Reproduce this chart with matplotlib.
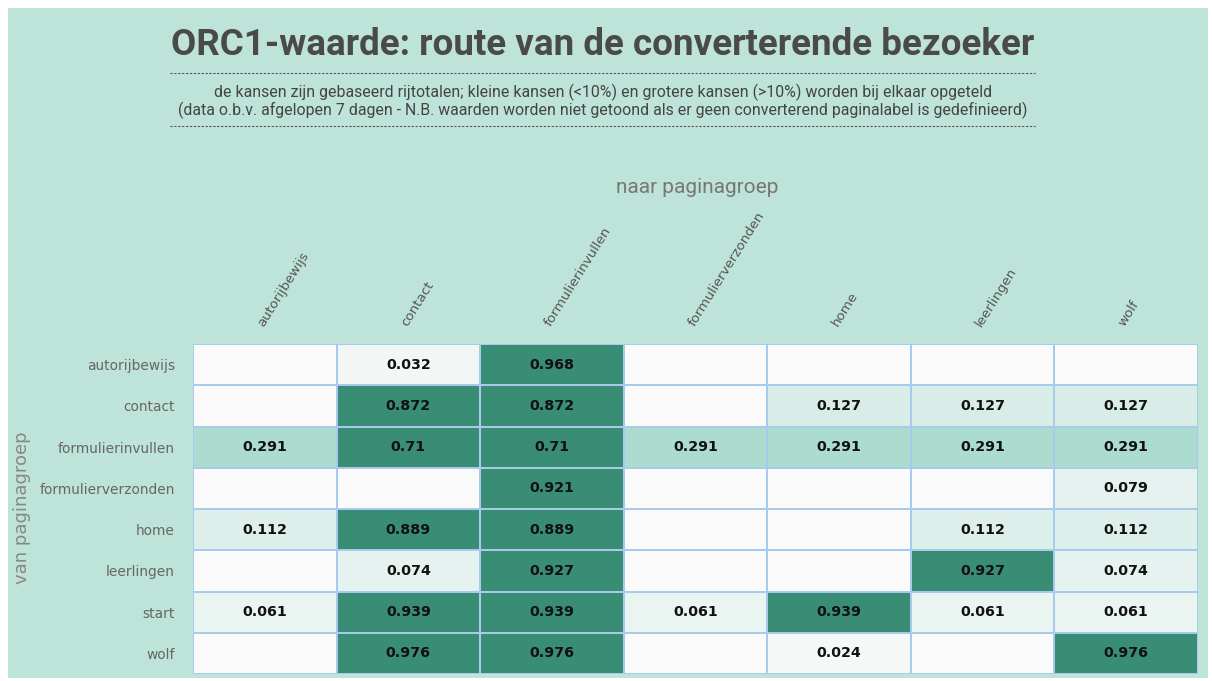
import numpy as np
import matplotlib
matplotlib.use("Agg")
import matplotlib.pyplot as plt
from matplotlib.colors import LinearSegmentedColormap
from matplotlib.lines import Line2D
from matplotlib.patches import Rectangle

# Transition probabilities between page groups (rows: from, columns: to)
from_groups = ["autorijbewijs", "contact", "formulierinvullen", "formulierverzonden",
               "home", "leerlingen", "start", "wolf"]
to_groups = ["autorijbewijs", "contact", "formulierinvullen", "formulierverzonden",
             "home", "leerlingen", "wolf"]
nan = np.nan
row_autorijbewijs = [nan, 0.032, 0.968, nan, nan, nan, nan]
row_contact = [nan, 0.872, 0.872, nan, 0.127, 0.127, 0.127]
row_formulierinvullen = [0.291, 0.71, 0.71, 0.291, 0.291, 0.291, 0.291]
row_formulierverzonden = [nan, nan, 0.921, nan, nan, nan, 0.079]
row_home = [0.112, 0.889, 0.889, nan, nan, 0.112, 0.112]
row_leerlingen = [nan, 0.074, 0.927, nan, nan, 0.927, 0.074]
row_start = [0.061, 0.939, 0.939, 0.061, 0.939, 0.061, 0.061]
row_wolf = [nan, 0.976, 0.976, nan, 0.024, nan, 0.976]

values = np.array([row_autorijbewijs, row_contact, row_formulierinvullen,
                   row_formulierverzonden, row_home, row_leerlingen,
                   row_start, row_wolf])

title = "ORC1-waarde: route van de converterende bezoeker"
subtitle = ("de kansen zijn gebaseerd rijtotalen; kleine kansen (<10%) en grotere kansen (>10%) "
            "worden bij elkaar opgeteld\n(data o.b.v. afgelopen 7 dagen - N.B. waarden worden niet "
            "getoond als er geen converterend paginalabel is gedefinieerd)")

BG = "#bee3d9"
EMPTY = "#fafafa"
cmap = LinearSegmentedColormap.from_list(
    "kans", [(0.0, "#fafafa"), (0.291 / 0.7, "#acdcd0"), (1.0, "#3a8d75")])
cmap.set_bad(EMPTY)

fig = plt.figure(figsize=(12.12, 6.81), dpi=100, facecolor="white")
fig.patches.append(Rectangle((8 / 1212, 3 / 681), 1200 / 1212, 670 / 681,
                             transform=fig.transFigure, facecolor=BG,
                             edgecolor="none", zorder=-10))

ax = fig.add_axes([193 / 1212, 7 / 681, 1005 / 1212, 330 / 681])
ax.set_facecolor(EMPTY)
masked = np.ma.masked_invalid(values)
ax.pcolormesh(masked, cmap=cmap, vmin=0, vmax=0.7,
              edgecolors="#a9cbeb", linewidth=1.3)
ax.set_xlim(0, len(to_groups))
ax.set_ylim(len(from_groups), 0)

for i in range(len(from_groups)):
    for j in range(len(to_groups)):
        v = values[i, j]
        if not np.isnan(v):
            ax.text(j + 0.5, i + 0.5, f"{v:g}", ha="center", va="center",
                    fontsize=10.3, fontweight="bold", color="#111111",
                    family="DejaVu Sans")

for s in ax.spines.values():
    s.set_visible(False)
ax.tick_params(length=0)
ax.set_xticks([])
ax.set_yticks(np.arange(len(from_groups)) + 0.5)
ax.set_yticklabels(from_groups, fontsize=9.9, color="#666666")
ax.tick_params(axis="y", pad=13)

# rotated column labels above the grid
for j, name in enumerate(to_groups):
    ax.text(j + 0.47, -0.45, name, rotation=58, rotation_mode="anchor",
            ha="left", va="center", fontsize=9.6, color="#555555")

fig.text(697 / 1212, 1 - 188 / 681, "naar paginagroep", ha="center", va="center",
         fontsize=15, color="#777777", family="Roboto")
fig.text(22 / 1212, 1 - 508 / 681, "van paginagroep", ha="center", va="center",
         rotation=90, fontsize=13, color="#888888")

fig.text(603 / 1212, 1 - 45 / 681, title, ha="center", va="center",
         fontsize=26.5, fontweight="bold", color="#4a4a4a", family="Roboto")
fig.text(603 / 1212, 1 - 101 / 681, subtitle, ha="center", va="center",
         fontsize=11.4, color="#444444", linespacing=1.05, family="Roboto")

for yy in (73, 126):
    fig.lines.append(Line2D([170 / 1212, 1035 / 1212], [1 - yy / 681] * 2,
                            transform=fig.transFigure, color="#555555",
                            lw=0.8, linestyle=(0, (2.0, 1.5))))

fig.savefig("out.png", dpi=100, facecolor="white")
